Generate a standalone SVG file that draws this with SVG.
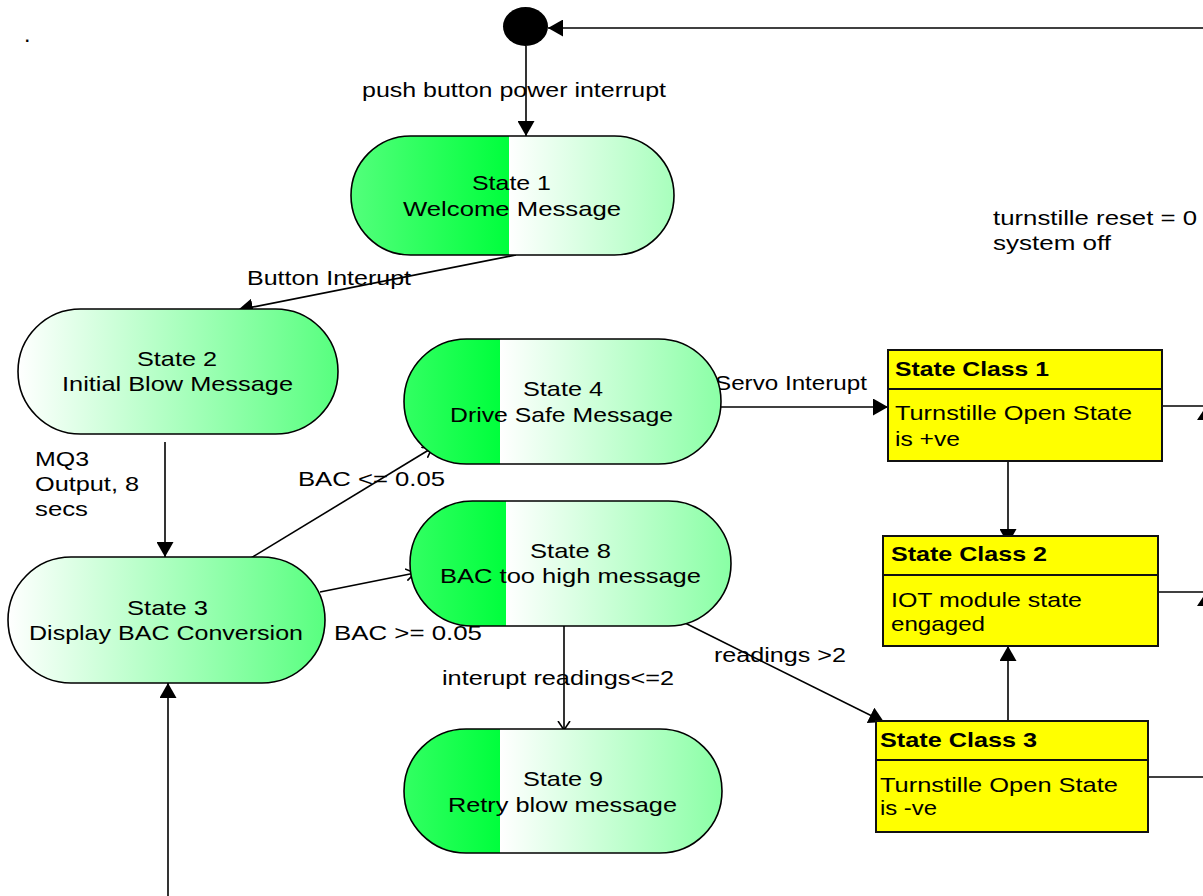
<svg xmlns="http://www.w3.org/2000/svg" width="1203" height="896" viewBox="0 0 1203 896">
<style>
text{font-family:"Liberation Sans",Arial,sans-serif;font-size:21px;fill:#000}
.b{font-weight:bold}
.st{stroke:#000;stroke-width:1.6}
.box{fill:#ffff00;stroke:#111;stroke-width:2}
.ln{stroke:#000;stroke-width:1.6;fill:none}
.f{marker-end:url(#fa)}
.o{marker-end:url(#oa)}
</style>
<defs>
<marker id="fa" viewBox="0 0 15 17" refX="15" refY="8.5" markerWidth="15" markerHeight="17" markerUnits="userSpaceOnUse" orient="auto"><path d="M0,0 L15,8.5 L0,17 z" fill="#000"/></marker>
<marker id="oa" viewBox="0 0 10 14" refX="9" refY="7" markerWidth="10" markerHeight="14" markerUnits="userSpaceOnUse" orient="auto"><path d="M0,1 L9,7 L0,13" fill="none" stroke="#000" stroke-width="1.6"/></marker>
<linearGradient id="g1" gradientUnits="userSpaceOnUse" x1="509" y1="0" x2="994" y2="0" spreadMethod="repeat"><stop offset="0" stop-color="#fff"/><stop offset="1" stop-color="#00ff3c"/></linearGradient>
<linearGradient id="g2" gradientUnits="userSpaceOnUse" x1="18" y1="0" x2="503" y2="0" spreadMethod="repeat"><stop offset="0" stop-color="#fff"/><stop offset="1" stop-color="#00ff3c"/></linearGradient>
<linearGradient id="g3" gradientUnits="userSpaceOnUse" x1="8" y1="0" x2="493" y2="0" spreadMethod="repeat"><stop offset="0" stop-color="#fff"/><stop offset="1" stop-color="#00ff3c"/></linearGradient>
<linearGradient id="g4" gradientUnits="userSpaceOnUse" x1="500" y1="0" x2="985" y2="0" spreadMethod="repeat"><stop offset="0" stop-color="#fff"/><stop offset="1" stop-color="#00ff3c"/></linearGradient>
<linearGradient id="g8" gradientUnits="userSpaceOnUse" x1="506" y1="0" x2="991" y2="0" spreadMethod="repeat"><stop offset="0" stop-color="#fff"/><stop offset="1" stop-color="#00ff3c"/></linearGradient>
<linearGradient id="g9" gradientUnits="userSpaceOnUse" x1="500" y1="0" x2="985" y2="0" spreadMethod="repeat"><stop offset="0" stop-color="#fff"/><stop offset="1" stop-color="#00ff3c"/></linearGradient>
</defs>
<rect width="1203" height="896" fill="#fff"/>
<text x="25" y="42" style="font-size:16px;font-weight:bold">.</text>

<g id="connectors">
<line class="ln f" x1="1203" y1="28" x2="548" y2="28"/>
<line class="ln f" x1="526" y1="46" x2="526" y2="136"/>
<line class="ln f" x1="516" y1="255" x2="238" y2="310"/>
<line class="ln f" x1="165" y1="442" x2="165" y2="557"/>
<line class="ln f" x1="168" y1="896" x2="168" y2="683"/>
<line class="ln o" x1="246" y1="561" x2="432" y2="448"/>
<line class="ln o" x1="320" y1="592" x2="415" y2="573"/>
<line class="ln f" x1="711" y1="407" x2="888" y2="407"/>
<line class="ln o" x1="564" y1="626" x2="564" y2="730"/>
<line class="ln f" x1="683" y1="622" x2="884" y2="722"/>
<line class="ln f" x1="1008" y1="461" x2="1008" y2="544"/>
<line class="ln f" x1="1008" y1="721" x2="1008" y2="646"/>
<line class="ln" x1="1162" y1="406" x2="1203" y2="406"/>
<line class="ln" x1="1158" y1="592" x2="1203" y2="592"/>
<line class="ln" x1="1148" y1="777" x2="1203" y2="777"/>
<polygon points="1197,420 1203,411 1203,420" fill="#000"/>
<polygon points="1197,606 1203,597 1203,606" fill="#000"/>
</g>

<g id="labels">
<text x="362" y="97" textLength="304" lengthAdjust="spacingAndGlyphs">push button power interrupt</text>
<text x="247" y="285" textLength="164" lengthAdjust="spacingAndGlyphs">Button Interupt</text>
<text x="993" y="225" textLength="204" lengthAdjust="spacingAndGlyphs">turnstille reset = 0</text>
<text x="993" y="250" textLength="118" lengthAdjust="spacingAndGlyphs">system off</text>
<text x="35" y="466" textLength="54" lengthAdjust="spacingAndGlyphs">MQ3</text>
<text x="35" y="491" textLength="104" lengthAdjust="spacingAndGlyphs">Output, 8</text>
<text x="35" y="516" textLength="53" lengthAdjust="spacingAndGlyphs">secs</text>
<text x="715" y="390" textLength="152" lengthAdjust="spacingAndGlyphs">Servo Interupt</text>
<text x="298" y="486" textLength="147" lengthAdjust="spacingAndGlyphs">BAC &lt;= 0.05</text>
<text x="334" y="640" textLength="148" lengthAdjust="spacingAndGlyphs">BAC &gt;= 0.05</text>
<text x="442" y="685" textLength="232" lengthAdjust="spacingAndGlyphs">interupt readings&lt;=2</text>
<text x="714" y="662" textLength="132" lengthAdjust="spacingAndGlyphs">readings &gt;2</text>
</g>

<g id="initial"><ellipse cx="525.5" cy="26.5" rx="22.5" ry="19.5" fill="#000"/></g>

<g id="state1">
<rect x="351" y="136" width="323" height="119" rx="59.5" fill="url(#g1)" class="st"/>
<text x="472" y="190" textLength="79" lengthAdjust="spacingAndGlyphs">State 1</text>
<text x="403" y="216" textLength="218" lengthAdjust="spacingAndGlyphs">Welcome Message</text>
</g>

<g id="state2">
<rect x="18" y="309" width="320" height="125" rx="62.5" fill="url(#g2)" class="st"/>
<text x="137" y="366" textLength="80" lengthAdjust="spacingAndGlyphs">State 2</text>
<text x="62" y="391" textLength="231" lengthAdjust="spacingAndGlyphs">Initial Blow Message</text>
</g>

<g id="state3">
<rect x="8" y="557" width="317" height="126" rx="63" fill="url(#g3)" class="st"/>
<text x="127" y="615" textLength="81" lengthAdjust="spacingAndGlyphs">State 3</text>
<text x="29" y="640" textLength="274" lengthAdjust="spacingAndGlyphs">Display BAC Conversion</text>
</g>

<g id="state4">
<rect x="404" y="339" width="317" height="125" rx="62.5" fill="url(#g4)" class="st"/>
<text x="523" y="396" textLength="80" lengthAdjust="spacingAndGlyphs">State 4</text>
<text x="450" y="422" textLength="223" lengthAdjust="spacingAndGlyphs">Drive Safe Message</text>
</g>

<g id="state8">
<rect x="410" y="501" width="321" height="125" rx="62.5" fill="url(#g8)" class="st"/>
<text x="530" y="558" textLength="81" lengthAdjust="spacingAndGlyphs">State 8</text>
<text x="440" y="583" textLength="261" lengthAdjust="spacingAndGlyphs">BAC too high message</text>
</g>

<g id="state9">
<rect x="404" y="729" width="318" height="124" rx="62" fill="url(#g9)" class="st"/>
<text x="523" y="786" textLength="80" lengthAdjust="spacingAndGlyphs">State 9</text>
<text x="448" y="812" textLength="229" lengthAdjust="spacingAndGlyphs">Retry blow message</text>
</g>

<g id="stateclass1">
<rect x="888" y="350" width="274" height="111" class="box"/>
<line x1="888" y1="389" x2="1162" y2="389" stroke="#111" stroke-width="2"/>
<text class="b" x="895" y="376" textLength="154" lengthAdjust="spacingAndGlyphs">State Class 1</text>
<text x="895" y="420" textLength="237" lengthAdjust="spacingAndGlyphs">Turnstille Open State</text>
<text x="895" y="446" textLength="65" lengthAdjust="spacingAndGlyphs">is +ve</text>
</g>

<g id="stateclass2">
<rect x="883" y="536" width="275" height="110" class="box"/>
<line x1="883" y1="575" x2="1158" y2="575" stroke="#111" stroke-width="2"/>
<text class="b" x="891" y="561" textLength="156" lengthAdjust="spacingAndGlyphs">State Class 2</text>
<text x="891" y="607" textLength="191" lengthAdjust="spacingAndGlyphs">IOT module state</text>
<text x="891" y="631" textLength="94" lengthAdjust="spacingAndGlyphs">engaged</text>
</g>

<g id="stateclass3">
<rect x="876" y="721" width="272" height="111" class="box"/>
<line x1="876" y1="760" x2="1148" y2="760" stroke="#111" stroke-width="2"/>
<text class="b" x="880" y="747" textLength="157" lengthAdjust="spacingAndGlyphs">State Class 3</text>
<text x="880" y="792" textLength="238" lengthAdjust="spacingAndGlyphs">Turnstille Open State</text>
<text x="880" y="815" textLength="57" lengthAdjust="spacingAndGlyphs">is -ve</text>
</g>
</svg>
